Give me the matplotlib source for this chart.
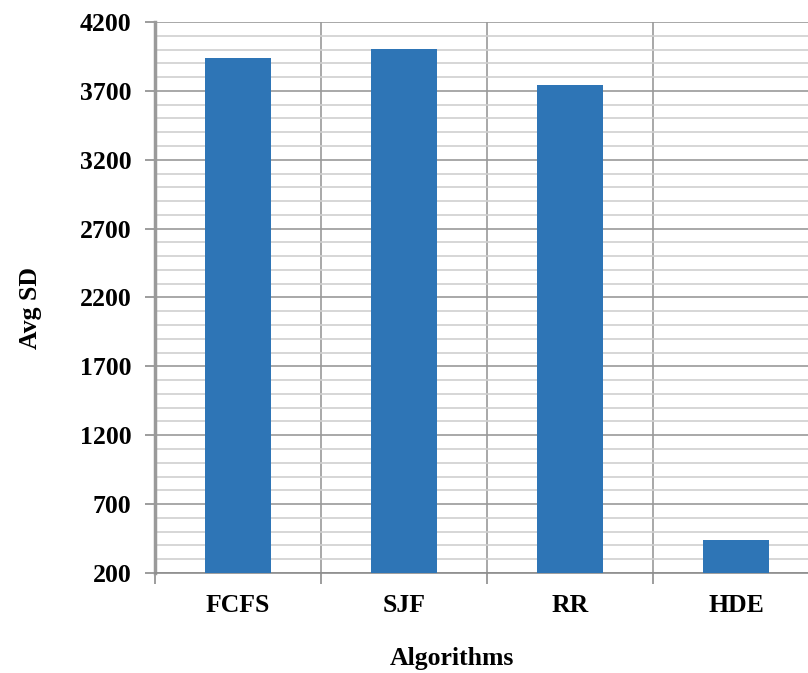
import numpy as np
import matplotlib.pyplot as plt
from matplotlib.ticker import MultipleLocator, FixedLocator

algorithms = ["FCFS", "SJF", "RR", "HDE"]
avg_sd = [3940, 4005, 3745, 440]
y_ticks = np.arange(200, 4201, 500)

plt.rcParams['font.family'] = ['Liberation Serif', 'DejaVu Serif']
plt.rcParams['font.weight'] = 'bold'

fig = plt.figure(figsize=(8.08, 6.73), dpi=100)
ax = fig.add_axes([155/808, 1-573/673, 664/808, 551/673])

x = np.arange(len(algorithms))
ax.bar(x, avg_sd, width=0.4, color="#2E75B6", zorder=3)

ax.set_xlim(-0.5, len(algorithms)-0.5)
ax.set_ylim(200, 4200)
ax.set_yticks(y_ticks)
ax.yaxis.set_minor_locator(MultipleLocator(100))
ax.set_xticks(x)
ax.set_xticklabels(algorithms)
ax.xaxis.set_minor_locator(FixedLocator(np.arange(-0.5, len(algorithms), 1)))

ax.grid(which='major', axis='y', color="#9a9a9a", linewidth=1.2, zorder=0)
ax.grid(which='minor', axis='y', color="#d0d0d0", linewidth=1.2, zorder=0)
ax.grid(which='minor', axis='x', color="#9a9a9a", linewidth=1.2, zorder=0)

ax.tick_params(axis='x', which='major', length=0, pad=15, labelsize=18.5)
ax.tick_params(axis='x', which='minor', length=8, color="#8c8c8c", width=1.2)
ax.tick_params(axis='y', which='major', length=7, color="#8c8c8c", width=1.2, pad=10, labelsize=18.5)
ax.tick_params(axis='y', which='minor', length=0)

for s in ['top', 'right']:
    ax.spines[s].set_visible(False)
ax.spines['left'].set_color("#9a9a9a")
ax.spines['left'].set_linewidth(2.5)
ax.spines['bottom'].set_color("#8c8c8c")
ax.spines['bottom'].set_linewidth(1.2)

fig.text(452/808, 1-658/673, "Algorithms", fontsize=18.5, fontweight='bold',
         ha='center', va='center')
fig.text(30/808, 1-308/673, "Avg SD", fontsize=18.5, fontweight='bold',
         ha='center', va='center', rotation=90)

fig.savefig("out.png", dpi=100)
